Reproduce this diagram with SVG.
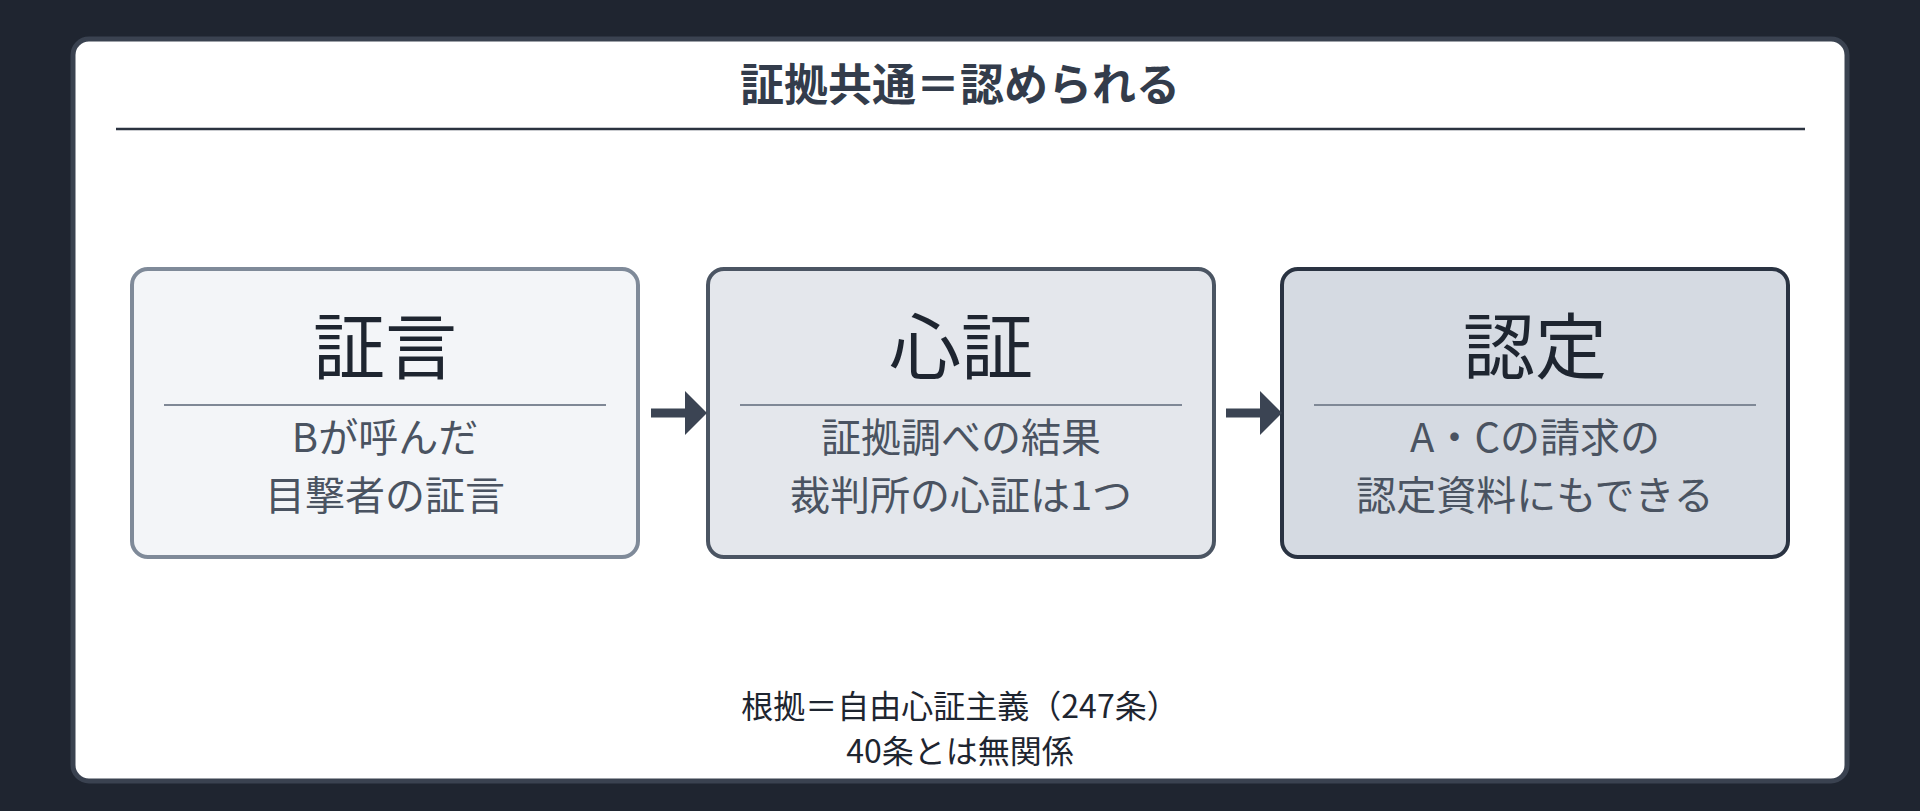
<svg xmlns="http://www.w3.org/2000/svg" width="1920" height="811" viewBox="0 0 1920 811">
<style>
text{font-family:"Noto Sans CJK JP","Noto Sans",sans-serif;text-anchor:middle}
.h{font-size:72px;fill:#1e2530}
.s{font-size:40px;fill:#4a5361}
.f{font-size:32px;fill:#1e2530}
.dv{stroke:#7f8896;stroke-width:2}
</style>
<defs><marker id="ah" markerWidth="4" markerHeight="6" refX="0" refY="3" orient="auto" markerUnits="userSpaceOnUse"><path d="M0,0 L0,6 L4,3 Z" fill="#3b4453"/></marker>
<marker id="a" viewBox="0 0 10 10" refX="0" refY="5" markerWidth="22" markerHeight="44" markerUnits="userSpaceOnUse" orient="auto" preserveAspectRatio="none"><path d="M0,0 L10,5 L0,10Z" fill="#3b4453"/></marker></defs>
<rect width="1920" height="811" fill="#1f2530"/>
<rect x="73" y="39" width="1774" height="742" rx="16" fill="#fff" stroke="#3a4250" stroke-width="5"/>
<text x="960" y="101" style="font-size:44px;font-weight:bold;fill:#333c4b">証拠共通＝認められる</text>
<line x1="116" y1="129" x2="1805" y2="129" stroke="#2b3340" stroke-width="2.5"/>
<g id="n1"><rect x="132" y="269" width="506" height="288" rx="16" fill="#f3f5f8" stroke="#7f8a99" stroke-width="4"/>
<text class="h" x="385" y="373">証言</text><line class="dv" x1="164" y1="405" x2="606" y2="405"/>
<text class="s" x="385" y="452">Bが呼んだ</text><text class="s" x="385" y="510">目撃者の証言</text></g>
<g id="n2"><rect x="708" y="269" width="506" height="288" rx="16" fill="#e4e7ec" stroke="#4b5563" stroke-width="4"/>
<text class="h" x="961" y="373">心証</text><line class="dv" x1="740" y1="405" x2="1182" y2="405"/>
<text class="s" x="961" y="452">証拠調べの結果</text><text class="s" x="961" y="510">裁判所の心証は1つ</text></g>
<g id="n3"><rect x="1282" y="269" width="506" height="288" rx="16" fill="#d5dae2" stroke="#2a3342" stroke-width="4"/>
<text class="h" x="1535" y="373">認定</text><line class="dv" x1="1314" y1="405" x2="1756" y2="405"/>
<text class="s" x="1535" y="452">A・Cの請求の</text><text class="s" x="1535" y="510">認定資料にもできる</text></g>
<g id="connectors" stroke="#3b4453" stroke-width="9">
<line x1="651" y1="413" x2="685" y2="413" marker-end="url(#a)"/>
<line x1="1226" y1="413" x2="1260" y2="413" marker-end="url(#a)"/>
</g>
<text class="f" x="960" y="718">根拠＝自由心証主義（247条）</text>
<text class="f" x="960" y="763">40条とは無関係</text>
</svg>
